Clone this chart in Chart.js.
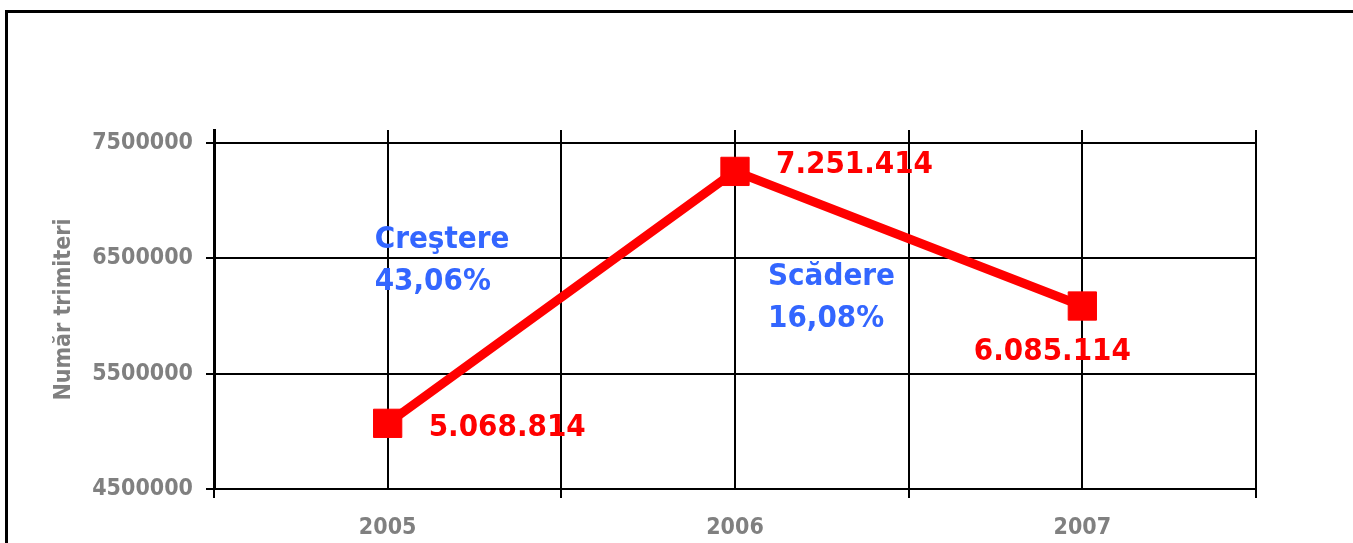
<!DOCTYPE html>
<html>
<head>
<meta charset="utf-8">
<script src="https://cdn.jsdelivr.net/npm/chart.js@4/dist/chart.umd.min.js"></script>
<style>
html, body { margin: 0; padding: 0; background: #fff; }
#wrap { position: relative; width: 1353px; height: 543px; overflow: hidden; }
#frame { position: absolute; left: 5px; top: 10px; width: 1400px; height: 600px; border: 3px solid #000; box-sizing: border-box; }
#c { position: absolute; left: 0; top: 0; }
</style>
</head>
<body>
<div id="wrap">
  <div id="frame"></div>
  <canvas id="c" width="1353" height="543"></canvas>
</div>
<script>
// date: numar de trimiteri pe an
var years = ['2005', '2006', '2007'];
var trimiteri = [5068814, 7251414, 6085114];
var yTicks = [4500000, 5500000, 6500000, 7500000];
var noteTitles = ['Creştere', 'Scădere'];

var GRAY = '#808080';
var RED = '#ff0000';
var BLUE = '#3366ff';
var FONT = '"DejaVu Sans Condensed", "DejaVu Sans", Verdana, sans-serif';

function fmtDots(v) {
  return String(v).replace(/\B(?=(\d{3})+(?!\d))/g, '.');
}
function pct(v) {
  return v.toFixed(2).replace('.', ',') + '%';
}

// variatia de la un an la altul
var growth = (trimiteri[1] / trimiteri[0] - 1) * 100;
var drop = (1 - trimiteri[2] / trimiteri[1]) * 100;

var points = trimiteri.map(function(v, i) { return { x: i + 1, y: v }; });

// etichete rosii langa puncte + textele albastre
var labelsPlugin = {
  id: 'labelsPlugin',
  afterDatasetsDraw: function(chart) {
    var ctx = chart.ctx;
    var meta = chart.getDatasetMeta(0);
    var offs = [
      { dx: 41, dy: 13, align: 'left' },
      { dx: 41, dy: 1.5, align: 'left' },
      { dx: -30, dy: 54, align: 'center' }
    ];
    ctx.save();
    ctx.font = 'bold 31px ' + FONT;
    ctx.fillStyle = RED;
    ctx.textBaseline = 'alphabetic';
    meta.data.forEach(function(pt, i) {
      var o = offs[i];
      ctx.textAlign = o.align;
      ctx.fillText(fmtDots(trimiteri[i]), pt.x + o.dx, pt.y + o.dy);
    });

    ctx.fillStyle = BLUE;
    ctx.textAlign = 'left';
    var xs = chart.scales.x;
    var x1 = xs.getPixelForValue(1) - 13;
    var x2 = xs.getPixelForValue(2) + 33;
    ctx.fillText(noteTitles[0], x1, 248);
    ctx.fillText(pct(growth), x1, 290);
    ctx.fillText(noteTitles[1], x2, 285);
    ctx.fillText(pct(drop), x2, 327);
    ctx.restore();
  }
};

new Chart(document.getElementById('c'), {
  type: 'line',
  data: {
    datasets: [{
      data: points,
      borderColor: RED,
      backgroundColor: RED,
      borderWidth: 9,
      pointStyle: 'rect',
      pointRadius: 20,
      pointBorderWidth: 1,
      pointBorderColor: RED,
      pointBackgroundColor: RED,
      tension: 0
    }]
  },
  options: {
    responsive: false,
    devicePixelRatio: 1,
    animation: false,
    layout: { padding: { left: 0, top: 130, right: 97, bottom: 0 } },
    plugins: {
      legend: { display: false },
      tooltip: { enabled: false }
    },
    scales: {
      x: {
        type: 'linear',
        min: 0.5,
        max: 3.5,
        afterBuildTicks: function(s) {
          s.ticks = [0.5, 1, 1.5, 2, 2.5, 3, 3.5].map(function(v) { return { value: v }; });
        },
        afterFit: function(s) { s.height = 54; },
        grid: {
          color: '#000',
          lineWidth: 2,
          tickLength: 9,
          tickWidth: 2,
          tickColor: function(c) {
            return (c.tick && Number.isInteger(c.tick.value)) ? 'rgba(0,0,0,0)' : '#000';
          }
        },
        border: { color: '#000', width: 2 },
        ticks: {
          autoSkip: false,
          maxRotation: 0,
          padding: 16,
          color: GRAY,
          font: { family: FONT, size: 23, weight: 'bold' },
          callback: function(v) {
            return Number.isInteger(v) ? years[v - 1] : '';
          }
        }
      },
      y: {
        type: 'linear',
        min: 4500000,
        max: 7610000,
        afterBuildTicks: function(s) {
          s.ticks = yTicks.map(function(v) { return { value: v }; });
        },
        afterFit: function(s) { s.width = 214; },
        grid: {
          color: '#000',
          lineWidth: 2,
          tickLength: 8,
          tickWidth: 2,
          tickColor: '#000'
        },
        border: { color: '#000', width: 3 },
        title: {
          display: true,
          text: 'Număr trimiteri',
          color: GRAY,
          padding: { top: 50, bottom: 0 },
          font: { family: FONT, size: 23, weight: 'bold' }
        },
        ticks: {
          padding: 13,
          color: GRAY,
          font: { family: FONT, size: 23, weight: 'bold' },
          callback: function(v) { return String(v); }
        }
      }
    }
  },
  plugins: [labelsPlugin]
});
</script>
</body>
</html>
